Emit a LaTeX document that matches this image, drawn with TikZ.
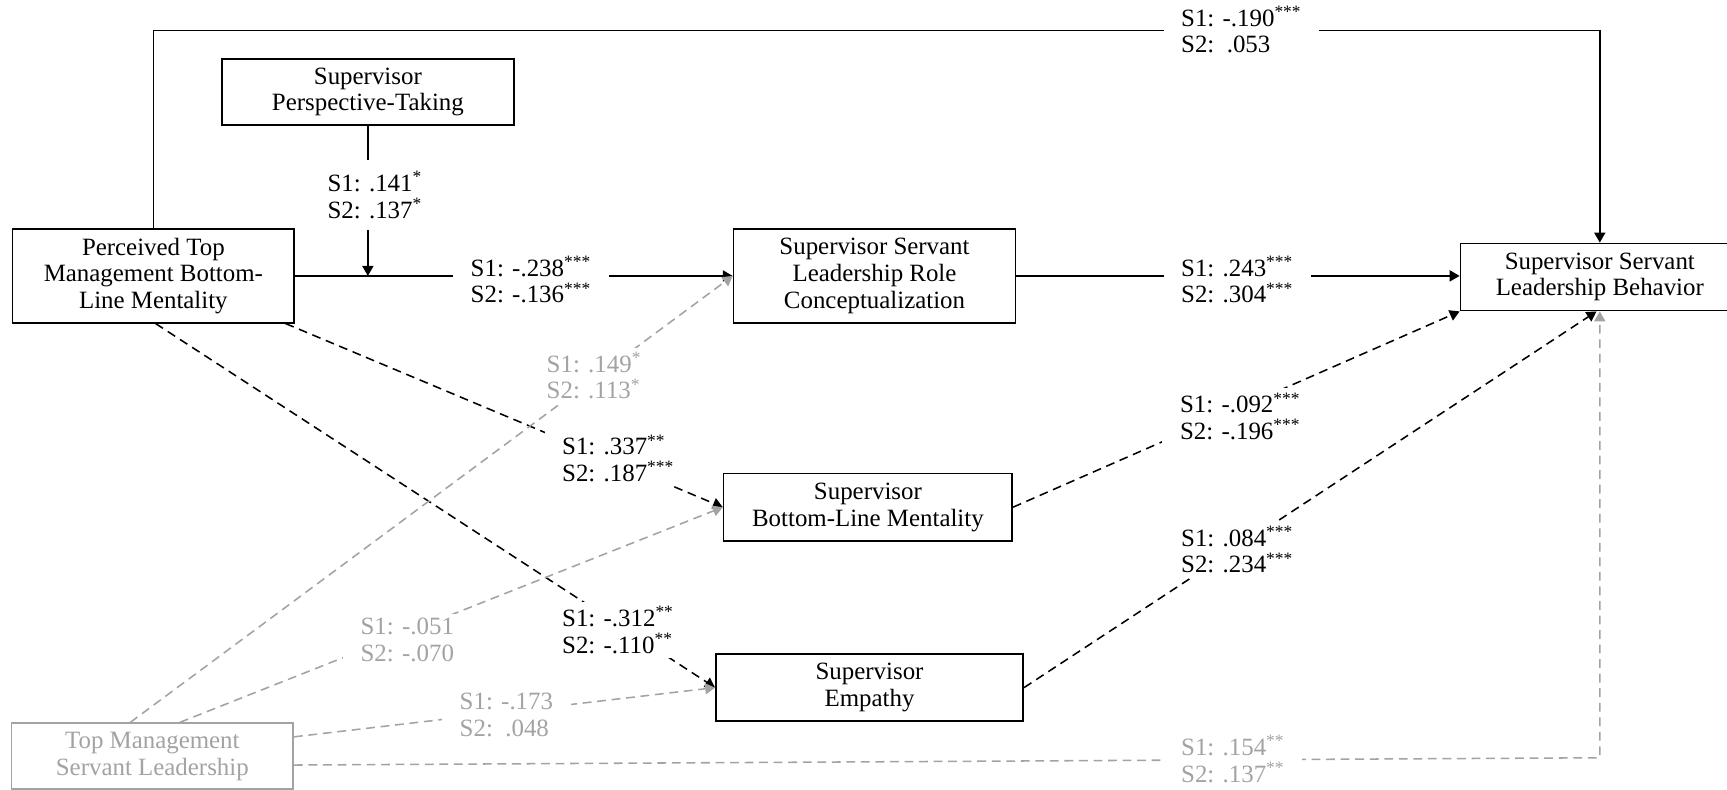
\documentclass[tikz,border=0pt]{standalone}
\usepackage{fontspec}
\setmainfont{Liberation Serif}
\usetikzlibrary{arrows.meta,calc}
\definecolor{lg}{RGB}{163,163,163}
\newcommand{\sig}[1]{\textsuperscript{#1}}
\begin{document}
\begin{tikzpicture}[x=0.5pt,y=-0.5pt,
  font=\fontsize{11.3}{12.1}\selectfont,
  box/.style={draw,line width=0.75pt,align=center,inner sep=0pt,minimum height=30.5pt},
  gbox/.style={box,draw=lg,text=lg},
  lab/.style={fill=white,align=left,anchor=west,inner xsep=8pt,inner ysep=2pt},
  glab/.style={lab,text=lg},
  conn/.style={line width=0.7pt},
  arr/.style={conn,-{Triangle[length=4.5pt,width=5pt]}},
  darr/.style={arr,dash pattern=on 4pt off 2.6pt},
  garr/.style={darr,draw=lg},
]
\useasboundingbox (0,0) rectangle (1568,717);
\clip (0,0) rectangle (1568,717);
\fill[white] (0,0) rectangle (1568,717);

% boxes
\node[box,minimum width=132.5pt,minimum height=30pt] (pt) at (334,83.5) {Supervisor\\Perspective-Taking};
\node[box,minimum width=127.75pt,minimum height=42.5pt] (perc) at (139.25,250.5) {Perceived Top\\Management Bottom-\\Line Mentality};
\node[box,minimum width=128pt,minimum height=42.5pt] (role) at (794,250.5) {Supervisor Servant\\Leadership Role\\Conceptualization};
\node[box,minimum width=126.5pt] (behav) at (1452.5,251.5) {Supervisor Servant\\Leadership Behavior};
\node[box,minimum width=131pt] (blm) at (788,460.5) {Supervisor\\Bottom-Line Mentality};
\node[box,minimum width=139.5pt] (emp) at (789.5,624.3) {Supervisor\\Empathy};
\node[gbox,minimum width=127.8pt,minimum height=30pt] (tm) at (138.3,686.6) {Top Management\\Servant Leadership};

% solid connectors
\coordinate (ty) at (0,27.5);
\draw[arr] (perc.north) -- (perc.north |- ty) -- (behav.north |- ty) -- (behav.north);
\coordinate (mp) at (pt.south |- perc.east);
\draw[arr] (pt.south) -- (mp);
\draw[arr] (perc.east) -- (role.west);
\draw[arr] (role.east) -- (role.east -| behav.west);

% black dashed connectors
\draw[darr] ($(perc.south)+(120,0)$) -- (blm.west);
\draw[darr] ($(perc.south)+(2,0)$) -- (emp.west);
\draw[darr] (blm.east) -- (behav.south west);
\draw[darr] (emp.east) -- ($(behav.south)+(-3,0)$);

% gray dashed connectors
\draw[garr] ($(tm.north)+(-20,0)$) -- (role.west);
\draw[garr] ($(tm.north)+(25,0)$) -- (blm.west);
\draw[garr] ($(tm.east)+(0,-17.6)$) -- (emp.west);
\coordinate (gy) at (0,688);
\draw[garr] ($(tm.east)+(0,8)$) -- (behav.south |- gy) -- (behav.south);

% labels
\node[lab] (l190) at (1056,27) {S1: -.190\sig{***}\\S2:\ \ .053};
\node[lab,inner ysep=5pt] (l141) at (281,177) {S1: .141\sig{*}\\S2: .137\sig{*}};
\node[lab] (l238) at (411,254) {S1: -.238\sig{***}\\S2: -.136\sig{***}};
\node[lab] (l243) at (1056,254) {S1: .243\sig{***}\\S2: .304\sig{***}};
\node[glab] (l149) at (480,341) {S1: .149\sig{*}\\S2: .113\sig{*}};
\node[lab] (l337) at (494,416) {S1: .337\sig{**}\\S2: .187\sig{***}};
\node[lab] (l312) at (494,572) {S1: -.312\sig{**}\\S2: -.110\sig{**}};
\node[lab] (l092) at (1055,378) {S1: -.092\sig{***}\\S2: -.196\sig{***}};
\node[lab] (l084) at (1056,499) {S1: .084\sig{***}\\S2: .234\sig{***}};
\node[glab] (l051) at (311,581) {S1: -.051\\S2: -.070};
\node[glab] (l173) at (401,649) {S1: -.173\\S2:\ \ .048};
\node[glab] (l154) at (1056,689) {S1: .154\sig{**}\\S2: .137\sig{**}};
\end{tikzpicture}
\end{document}
